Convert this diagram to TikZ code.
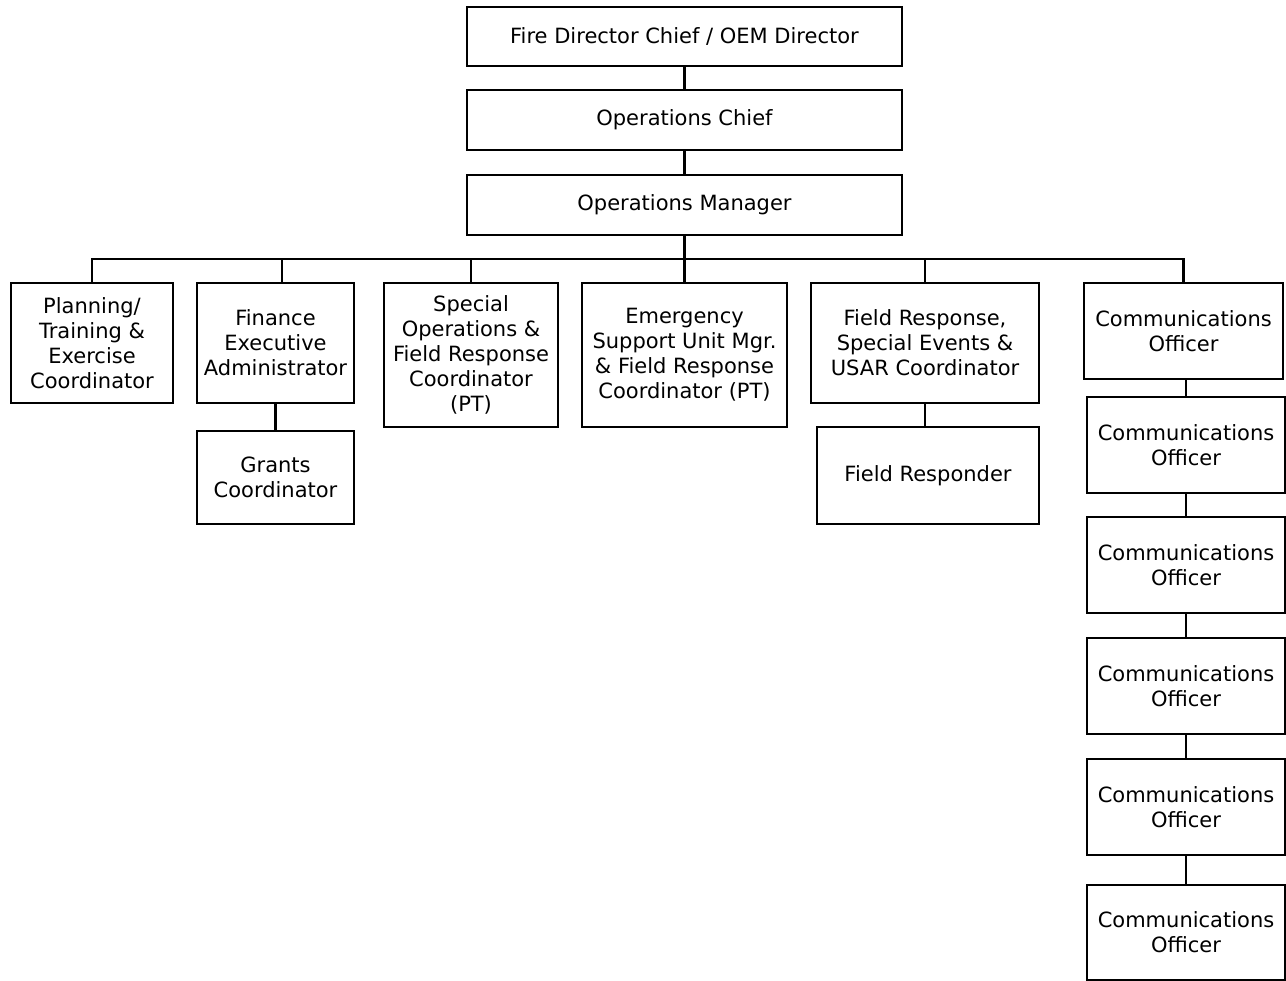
\documentclass[tikz,border=0pt]{standalone}
\usepackage{fontspec}
\setmainfont{DejaVu Sans}

\begin{document}
\begin{tikzpicture}[x=1pt,y=-1pt,
    post/.style={draw,line width=2.4pt,rectangle,inner sep=0pt,align=center,
        font=\fontsize{21}{25}\selectfont},
    link/.style={line width=2.4pt}]
\useasboundingbox (0,0) rectangle (1286,981);
    \node[post,minimum width=435,minimum height=59] (fire) at (684.5,36.5) {Fire Director Chief / OEM Director};
    \node[post,minimum width=435,minimum height=60] (opchief) at (684.5,120) {Operations Chief};
    \node[post,minimum width=435,minimum height=60] (opmgr) at (684.5,205) {Operations Manager};
    \coordinate (bus) at (684.5,259);
    \node[post,minimum width=162,minimum height=120] (plan) at (92,343) {Planning/\\Training \&\\Exercise\\Coordinator};
    \node[post,minimum width=157,minimum height=120] (fin) at (275.5,343) {Finance\\Executive\\Administrator};
    \node[post,minimum width=157,minimum height=93] (grants) at (275.5,477.5) {Grants\\Coordinator};
    \node[post,minimum width=174,minimum height=144] (specops) at (471,355) {Special\\Operations \&\\Field Response\\Coordinator\\(PT)};
    \node[post,minimum width=205,minimum height=144] (esu) at (684.5,355) {Emergency\\Support Unit Mgr.\\\& Field Response\\Coordinator (PT)};
    \node[post,minimum width=228,minimum height=120] (fieldresp) at (925,343) {Field Response,\\Special Events \&\\USAR Coordinator};
    \node[post,minimum width=222,minimum height=97] (responder) at (928,475.5) {Field Responder};
    \node[post,minimum width=199,minimum height=96] (comm1) at (1183.5,331) {Communications\\Officer};
    \node[post,minimum width=198,minimum height=96] (comm2) at (1186,445) {Communications\\Officer};
    \node[post,minimum width=198,minimum height=96] (comm3) at (1186,565) {Communications\\Officer};
    \node[post,minimum width=198,minimum height=96] (comm4) at (1186,686) {Communications\\Officer};
    \node[post,minimum width=198,minimum height=96] (comm5) at (1186,807) {Communications\\Officer};
    \node[post,minimum width=198,minimum height=95] (comm6) at (1186,932.5) {Communications\\Officer};
    \draw[link] (fire) -- (opchief);
    \draw[link] (opchief) -- (opmgr);
    \draw[link] (opmgr) -- (bus);
    \draw[link] (plan.north) -- (plan.north |- bus) -- (comm1.north |- bus) -- (comm1.north);
    \foreach \n in {specops,esu,fieldresp}
        \draw[link] (\n.north) -- (\n.north |- bus);
    \draw[link] ([xshift=6.5]fin.north) -- ([xshift=6.5]fin.north |- bus);
    \draw[link] (fin) -- (grants);
    \draw[link] (fieldresp.south) -- (fieldresp.south |- responder.north);
    \draw[link] (comm2.north) -- (comm2.north |- comm1.south);
    \foreach \a/\b in {comm2/comm3,comm3/comm4,comm4/comm5,comm5/comm6}
        \draw[link] (\a) -- (\b);
\end{tikzpicture}
\end{document}
